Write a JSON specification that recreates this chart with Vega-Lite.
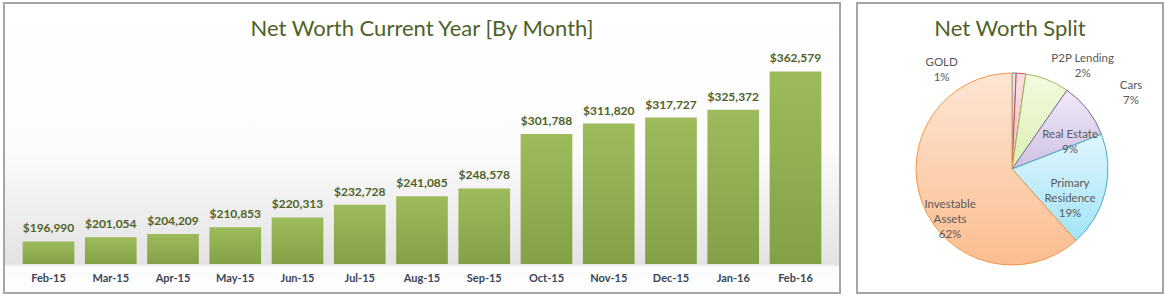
{
  "$schema": "https://vega.github.io/schema/vega-lite/v6.json",
  "padding": {"left": 3, "top": 2, "right": 0, "bottom": 0},
  "background": "white",
  "spacing": 15,
  "config": {"font": "Lato", "view": {"stroke": "#a6a6a6", "strokeWidth": 2}},
  "hconcat": [
    {
      "width": 836,
      "height": 290,
      "view": {
        "stroke": "#a6a6a6",
        "strokeWidth": 2,
        "fill": {
          "gradient": "linear", "x1": 0, "y1": 0, "x2": 0, "y2": 1,
          "stops": [
            {"offset": 0, "color": "#ffffff"},
            {"offset": 0.5, "color": "#fcfcfc"},
            {"offset": 0.9, "color": "#e3e3e3"},
            {"offset": 0.91, "color": "#fbfbfb"},
            {"offset": 1, "color": "#ffffff"}
          ]
        }
      },
      "title": {
        "text": "Net Worth Current Year [By Month]",
        "font": "Lato", "fontSize": 22, "fontWeight": "normal",
        "color": "#4F6228", "anchor": "middle", "offset": -38
      },
      "data": {
        "values": [
          {"month": "Feb-15", "value": 196990},
          {"month": "Mar-15", "value": 201054},
          {"month": "Apr-15", "value": 204209},
          {"month": "May-15", "value": 210853},
          {"month": "Jun-15", "value": 220313},
          {"month": "Jul-15", "value": 232728},
          {"month": "Aug-15", "value": 241085},
          {"month": "Sep-15", "value": 248578},
          {"month": "Oct-15", "value": 301788},
          {"month": "Nov-15", "value": 311820},
          {"month": "Dec-15", "value": 317727},
          {"month": "Jan-16", "value": 325372},
          {"month": "Feb-16", "value": 362579}
        ]
      },
      "encoding": {
        "x": {
          "field": "month", "type": "nominal", "sort": null,
          "scale": {"paddingInner": 0.17, "paddingOuter": 0.3},
          "axis": {
            "title": null, "domain": false, "ticks": false, "labelAngle": 0,
            "labelFont": "Lato", "labelFontWeight": "bold", "labelFontSize": 11,
            "labelColor": "#3B4656", "offset": -21, "labelPadding": 0
          }
        },
        "y": {
          "field": "value", "type": "quantitative",
          "scale": {"domain": [146743, 429311], "nice": false, "zero": false},
          "axis": null
        }
      },
      "layer": [
        {
          "mark": {
            "type": "bar",
            "color": {
              "gradient": "linear", "x1": 0, "y1": 0, "x2": 0, "y2": 1,
              "stops": [
                {"offset": 0, "color": "#9dbb5b"},
                {"offset": 1, "color": "#84a047"}
              ]
            }
          },
          "encoding": {"y2": {"datum": 175000}}
        },
        {
          "mark": {
            "type": "text", "font": "Lato", "fontWeight": "bold", "fontSize": 12,
            "color": "#4F6228", "dy": -13, "baseline": "middle"
          },
          "encoding": {"text": {"field": "value", "type": "quantitative", "format": "$,.0f"}}
        }
      ]
    },
    {
      "width": 306,
      "height": 290,
      "view": {"fill": "white", "stroke": "#a6a6a6", "strokeWidth": 2},
      "title": {
        "text": "Net Worth Split",
        "font": "Lato", "fontSize": 22, "fontWeight": "normal",
        "color": "#4F6228", "anchor": "middle", "offset": -38
      },
      "data": {
        "values": [
          {"category": "GOLD", "value": 0.7, "rank": 1, "label": "GOLD\n1%"},
          {"category": "P2P Lending", "value": 1.6, "rank": 2, "label": "P2P Lending\n2%"},
          {"category": "Cars", "value": 7.4, "rank": 3, "label": "Cars\n7%"},
          {"category": "Real Estate", "value": 9.4, "rank": 4, "label": "Real Estate\n9%"},
          {"category": "Primary Residence", "value": 19.3, "rank": 5, "label": "Primary\nResidence\n19%"},
          {"category": "Investable Assets", "value": 61.6, "rank": 6, "label": "Investable\nAssets\n62%"}
        ]
      },
      "transform": [
        {"stack": "value", "groupby": [], "sort": [{"field": "rank", "order": "ascending"}], "as": ["v0", "v1"]}
      ],
      "layer": [
        {
          "transform": [{"filter": "datum.category === 'GOLD'"}],
          "mark": {"type": "arc", "radius": 96, "xOffset": 2, "yOffset": 21, "stroke": "#4F81BD", "strokeWidth": 1,
            "fill": {"gradient": "linear", "x1": 0, "y1": 0, "x2": 0, "y2": 1, "stops": [{"offset": 0, "color": "#dfe8f4"}, {"offset": 1, "color": "#b9cde5"}]}},
          "encoding": {"theta": {"field": "v0", "type": "quantitative", "scale": {"domain": [0, 100]}}, "theta2": {"field": "v1"}}
        },
        {
          "transform": [{"filter": "datum.category === 'P2P Lending'"}],
          "mark": {"type": "arc", "radius": 96, "xOffset": 2, "yOffset": 21, "stroke": "#C0504D", "strokeWidth": 1,
            "fill": {"gradient": "linear", "x1": 0, "y1": 0, "x2": 0, "y2": 1, "stops": [{"offset": 0, "color": "#fde0e0"}, {"offset": 1, "color": "#f7bcbc"}]}},
          "encoding": {"theta": {"field": "v0", "type": "quantitative", "scale": {"domain": [0, 100]}}, "theta2": {"field": "v1"}}
        },
        {
          "transform": [{"filter": "datum.category === 'Cars'"}],
          "mark": {"type": "arc", "radius": 96, "xOffset": 2, "yOffset": 21, "stroke": "#9BBB59", "strokeWidth": 1,
            "fill": {"gradient": "linear", "x1": 0, "y1": 0, "x2": 0, "y2": 1, "stops": [{"offset": 0, "color": "#f3fbe0"}, {"offset": 1, "color": "#dcefb3"}]}},
          "encoding": {"theta": {"field": "v0", "type": "quantitative", "scale": {"domain": [0, 100]}}, "theta2": {"field": "v1"}}
        },
        {
          "transform": [{"filter": "datum.category === 'Real Estate'"}],
          "mark": {"type": "arc", "radius": 96, "xOffset": 2, "yOffset": 21, "stroke": "#8064A2", "strokeWidth": 1,
            "fill": {"gradient": "linear", "x1": 0, "y1": 0, "x2": 0, "y2": 1, "stops": [{"offset": 0, "color": "#efeaf7"}, {"offset": 1, "color": "#cec1e4"}]}},
          "encoding": {"theta": {"field": "v0", "type": "quantitative", "scale": {"domain": [0, 100]}}, "theta2": {"field": "v1"}}
        },
        {
          "transform": [{"filter": "datum.category === 'Primary Residence'"}],
          "mark": {"type": "arc", "radius": 96, "xOffset": 2, "yOffset": 21, "stroke": "#4BACC6", "strokeWidth": 1,
            "fill": {"gradient": "linear", "x1": 0, "y1": 0, "x2": 0, "y2": 1, "stops": [{"offset": 0, "color": "#def6fd"}, {"offset": 1, "color": "#a3e4f7"}]}},
          "encoding": {"theta": {"field": "v0", "type": "quantitative", "scale": {"domain": [0, 100]}}, "theta2": {"field": "v1"}}
        },
        {
          "transform": [{"filter": "datum.category === 'Investable Assets'"}],
          "mark": {"type": "arc", "radius": 96, "xOffset": 2, "yOffset": 21, "stroke": "#F79646", "strokeWidth": 1,
            "fill": {"gradient": "linear", "x1": 0, "y1": 0, "x2": 0, "y2": 1, "stops": [{"offset": 0, "color": "#fee6d4"}, {"offset": 1, "color": "#fbbd90"}]}},
          "encoding": {"theta": {"field": "v0", "type": "quantitative", "scale": {"domain": [0, 100]}}, "theta2": {"field": "v1"}}
        },
        {
          "transform": [{"filter": "datum.category === 'GOLD'"}],
          "mark": {"type": "text", "font": "Lato", "fontSize": 11.5, "color": "#595959", "lineBreak": "\n", "lineHeight": 15, "baseline": "middle", "align": "center", "xOffset": 2, "yOffset": 21},
          "encoding": {"theta": {"datum": 90.7, "type": "quantitative", "scale": {"domain": [0, 100]}}, "radius": {"value": 127.6}, "text": {"field": "label"}}
        },
        {
          "transform": [{"filter": "datum.category === 'P2P Lending'"}],
          "mark": {"type": "text", "font": "Lato", "fontSize": 11.5, "color": "#595959", "lineBreak": "\n", "lineHeight": 15, "baseline": "middle", "align": "center", "xOffset": 2, "yOffset": 21},
          "encoding": {"theta": {"datum": 9.1, "type": "quantitative", "scale": {"domain": [0, 100]}}, "radius": {"value": 130.6}, "text": {"field": "label"}}
        },
        {
          "transform": [{"filter": "datum.category === 'Cars'"}],
          "mark": {"type": "text", "font": "Lato", "fontSize": 11.5, "color": "#595959", "lineBreak": "\n", "lineHeight": 15, "baseline": "middle", "align": "center", "xOffset": 2, "yOffset": 21},
          "encoding": {"theta": {"datum": 15.3, "type": "quantitative", "scale": {"domain": [0, 100]}}, "radius": {"value": 145.2}, "text": {"field": "label"}}
        },
        {
          "transform": [{"filter": "datum.category === 'Real Estate'"}],
          "mark": {"type": "text", "font": "Lato", "fontSize": 11.5, "color": "#595959", "lineBreak": "\n", "lineHeight": 15, "baseline": "middle", "align": "center", "xOffset": 2, "yOffset": 21},
          "encoding": {"theta": {"datum": 16.5, "type": "quantitative", "scale": {"domain": [0, 100]}}, "radius": {"value": 67.5}, "text": {"field": "label"}}
        },
        {
          "transform": [{"filter": "datum.category === 'Primary Residence'"}],
          "mark": {"type": "text", "font": "Lato", "fontSize": 11.5, "color": "#595959", "lineBreak": "\n", "lineHeight": 15, "baseline": "middle", "align": "center", "xOffset": 2, "yOffset": 21},
          "encoding": {"theta": {"datum": 29.0, "type": "quantitative", "scale": {"domain": [0, 100]}}, "radius": {"value": 59.9}, "text": {"field": "label"}}
        },
        {
          "transform": [{"filter": "datum.category === 'Investable Assets'"}],
          "mark": {"type": "text", "font": "Lato", "fontSize": 11.5, "color": "#595959", "lineBreak": "\n", "lineHeight": 15, "baseline": "middle", "align": "center", "xOffset": 2, "yOffset": 21},
          "encoding": {"theta": {"datum": 66.6, "type": "quantitative", "scale": {"domain": [0, 100]}}, "radius": {"value": 71.7}, "text": {"field": "label"}}
        }
      ]
    }
  ]
}
